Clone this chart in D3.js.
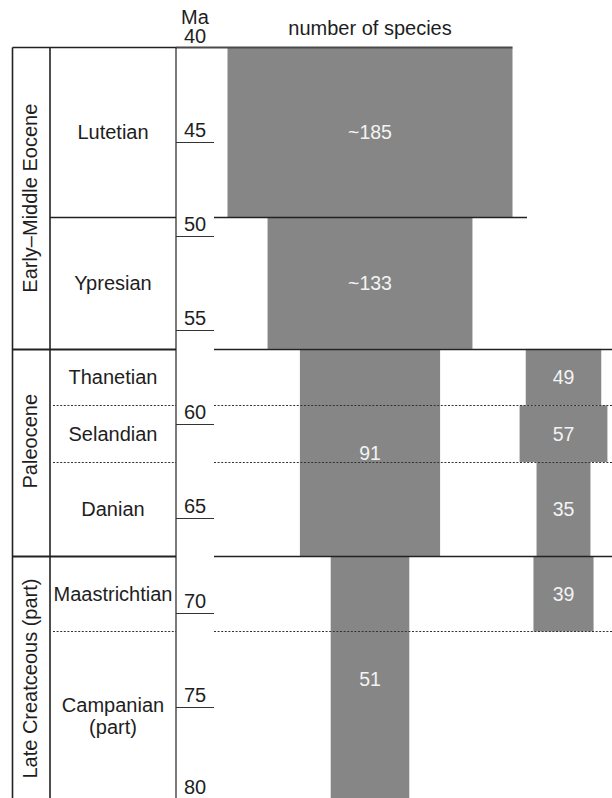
<!DOCTYPE html>
<html>
<head>
<meta charset="utf-8">
<script src="https://cdn.jsdelivr.net/npm/d3@7"></script>
<style>
  html, body { margin: 0; padding: 0; background: #fff; }
  svg { display: block; }
  text { font-family: "Liberation Sans", Arial, Helvetica, sans-serif; fill: #1e1e1e; }
</style>
</head>
<body>
<svg id="chart" width="612" height="798"></svg>
<script>
// Geological time column (Ma)
const epochs = ["Early–Middle Eocene", "Paleocene", "Late Creatceous (part)"];
const epochTop = [40, 56, 67];
const epochBase = [56, 67, 80];
const epochLabelAge = [48, 60.9, 73.5];

const stages = ["Lutetian", "Ypresian", "Thanetian", "Selandian", "Danian", "Maastrichtian", "Campanian\n(part)"];
const stageTop = [40, 49, 56, 59, 62, 67, 71];
const stageBase = [49, 56, 59, 62, 67, 71, 80];
// boundary kinds: "epoch" (solid, full width), "stage" (solid), "sub" (dotted)
const boundaryAge = [49, 56, 59, 62, 67, 71];
const boundaryKind = ["stage", "epoch", "sub", "sub", "epoch", "sub"];

const ageTicks = [40, 45, 50, 55, 60, 65, 70, 75, 80];

// Species counts per interval, two groups
const groupA = {
  labels: ["~185", "~133", "91", "51"],
  counts: [185, 133, 91, 51],
  top: [40, 49, 56, 67],
  base: [49, 56, 67, 80]
};
const groupB = {
  labels: ["49", "57", "35", "39"],
  counts: [49, 57, 35, 39],
  top: [56, 59, 62, 67],
  base: [59, 62, 67, 71]
};

const svg = d3.select("#chart");
const y = d3.scaleLinear().domain([40, 80]).range([47.5, 801]);
const w = d3.scaleLinear().domain([0, 185]).range([0, 285]);
const groupX = d3.scalePoint().domain(["A", "B"]).range([370, 563.5]);

const xEpochL = 12.5, xStageL = 50, xAxis = 176, xTickEnd = 214, xRight = 612;
const FS = 20;

// ---- bars ----
function drawGroup(g, key) {
  const cx = groupX(key);
  const rows = g.counts.map((c, i) => ({ c, label: g.labels[i], t: g.top[i], b: g.base[i] }));
  const grp = svg.append("g").attr("class", "bars-" + key);
  grp.selectAll("rect").data(rows).join("rect")
    .attr("x", d => cx - w(d.c) / 2)
    .attr("width", d => w(d.c))
    .attr("y", d => y(d.t))
    .attr("height", d => y(d.b) - y(d.t))
    .attr("fill", "#868686");
  return rows;
}
const rowsA = drawGroup(groupA, "A");
const rowsB = drawGroup(groupB, "B");

// ---- boundary lines ----
const lines = svg.append("g").attr("class", "boundaries");
function hline(x1, x2, yy, opts) {
  const l = lines.append("line")
    .attr("x1", x1).attr("x2", x2).attr("y1", yy).attr("y2", yy)
    .attr("stroke", opts.color || "#222")
    .attr("stroke-width", opts.width || 1);
  if (opts.dash) l.attr("stroke-dasharray", opts.dash);
}

// top edge of the table, running along the top of the widest bar
const topBarRight = groupX("A") + w(groupA.counts[0]) / 2;
hline(xEpochL, xAxis, y(40), { width: 1.6 });
hline(xAxis, topBarRight, y(40), { width: 1.8, color: "#4a4a4a" });

boundaryAge.forEach((a, i) => {
  const k = boundaryKind[i];
  const yy = Math.round(y(a)) + 0.5;
  if (k === "epoch") {
    hline(xEpochL, xAxis, yy, { width: 1.8 });
    hline(xTickEnd, xRight, yy, { width: 1.6 });
  } else if (k === "stage") {
    hline(xStageL, xAxis, yy, { width: 1.4 });
    hline(xTickEnd, 527, yy, { width: 1.4 });
  } else {
    hline(xStageL + 3, xAxis, yy, { width: 1, dash: "2,1.6", color: "#333" });
    hline(xTickEnd, xRight, yy, { width: 1, dash: "2,1.6", color: "#333" });
  }
});

// vertical column lines
[xEpochL, xStageL].forEach(x => {
  lines.append("line").attr("x1", x).attr("x2", x).attr("y1", y(40)).attr("y2", 798)
    .attr("stroke", "#222").attr("stroke-width", 1.6);
});
lines.append("line").attr("x1", xAxis).attr("x2", xAxis).attr("y1", y(40)).attr("y2", 798)
  .attr("stroke", "#222").attr("stroke-width", 1.2);

// ---- age axis ----
const axisG = svg.append("g").attr("class", "age-axis");
axisG.selectAll("line").data(ageTicks.filter(t => t > 40)).join("line")
  .attr("x1", xAxis).attr("x2", xTickEnd)
  .attr("y1", d => Math.round(y(d)) + 0.5).attr("y2", d => Math.round(y(d)) + 0.5)
  .attr("stroke", "#333").attr("stroke-width", 1.2);
axisG.selectAll("text").data(ageTicks).join("text")
  .attr("x", 195).attr("y", d => Math.min(y(d) - 5, 794))
  .attr("text-anchor", "middle").attr("font-size", FS)
  .text(d => d);
svg.append("text").attr("x", 195).attr("y", 24)
  .attr("text-anchor", "middle").attr("font-size", FS).text("Ma");
svg.append("text").attr("x", 370).attr("y", 35)
  .attr("text-anchor", "middle").attr("font-size", FS).text("number of species");

// ---- stage labels ----
const stageG = svg.append("g").attr("class", "stages");
stages.forEach((s, i) => {
  const parts = s.split("\n");
  const cy = (y(stageTop[i]) + y(stageBase[i])) / 2;
  const lh = 21.5;
  const t = stageG.append("text")
    .attr("x", (xStageL + xAxis) / 2)
    .attr("text-anchor", "middle").attr("font-size", FS);
  parts.forEach((p, j) => {
    t.append("tspan").attr("x", (xStageL + xAxis) / 2)
      .attr("y", cy + 7 + (j - (parts.length - 1) / 2) * lh)
      .text(p);
  });
});

// ---- epoch labels (rotated) ----
const epochG = svg.append("g").attr("class", "epochs");
epochs.forEach((e, i) => {
  const cy = y(epochLabelAge[i]);
  epochG.append("text")
    .attr("transform", `translate(36.5,${cy}) rotate(-90)`)
    .attr("text-anchor", "middle").attr("font-size", FS)
    .text(e);
});

// ---- bar value labels ----
function labelGroup(rows, key) {
  svg.append("g").selectAll("text").data(rows).join("text")
    .attr("x", groupX(key))
    .attr("y", d => (y(d.t) + y(d.b)) / 2 + 7)
    .attr("text-anchor", "middle").attr("font-size", 19.5)
    .style("fill", "#f3f3f3")
    .text(d => d.label);
}
labelGroup(rowsA, "A");
labelGroup(rowsB, "B");
</script>
</body>
</html>
